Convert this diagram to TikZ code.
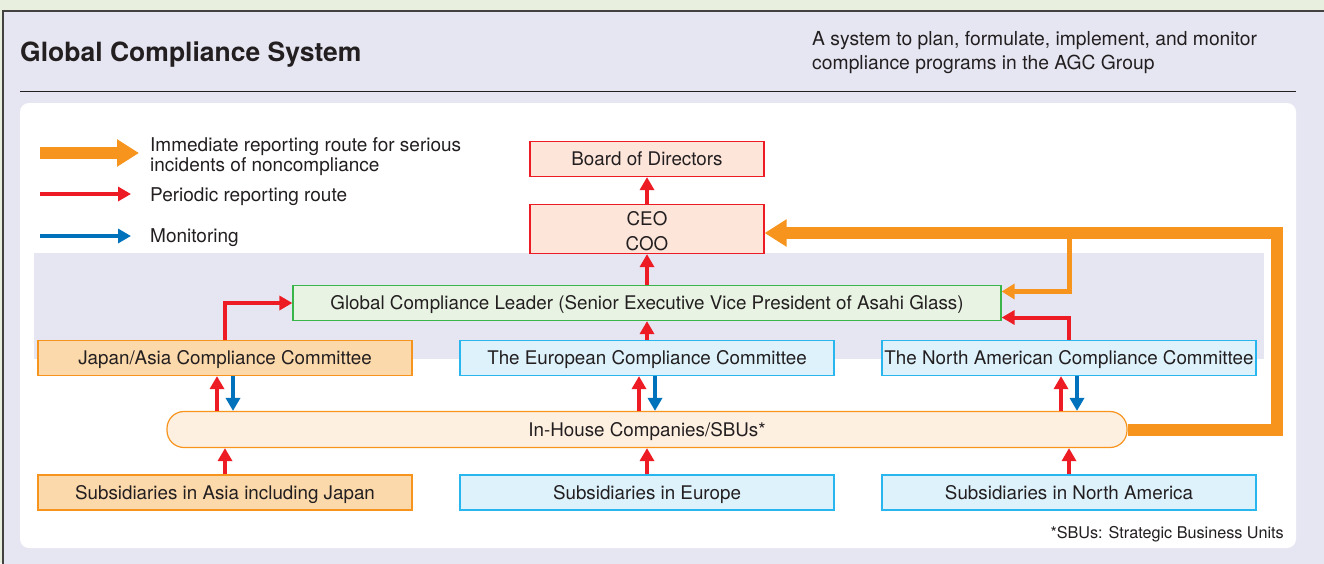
\documentclass[tikz,border=0pt]{standalone}
\usepackage{fontspec}
\setmainfont{TeX Gyre Heros}
\usetikzlibrary{arrows.meta,positioning}
\definecolor{txt}{HTML}{231F20}
\definecolor{topgreen}{HTML}{E9EFDF}
\definecolor{lavender}{HTML}{E6E6F2}
\definecolor{arrred}{HTML}{ED1C24}
\definecolor{arrblue}{HTML}{0072BC}
\definecolor{arrorange}{HTML}{F7941D}
\definecolor{redfill}{HTML}{FDE5DA}
\definecolor{greenline}{HTML}{39B54A}
\definecolor{greenfill}{HTML}{E8F3E3}
\definecolor{asiafill}{HTML}{FCD9AB}
\definecolor{housefill}{HTML}{FEF0E1}
\definecolor{cyanline}{HTML}{29B6EE}
\definecolor{cyanfill}{HTML}{DEF2FC}
\tikzset{
  box/.style={draw, line width=1.2pt, minimum height=35pt, inner sep=0pt,
    font=\fontsize{18.8}{25}\selectfont, text=txt, align=center},
  oneline/.style={box, text height=13.5pt, text depth=0pt},
  redbox/.style={oneline, draw=arrred, fill=redfill, minimum width=234pt},
  asiabox/.style={oneline, draw=arrorange, fill=asiafill, minimum width=374pt},
  cyanbox/.style={oneline, draw=cyanline, fill=cyanfill, minimum width=374pt},
  redarrow/.style={draw=arrred, line width=4pt, -{Triangle[width=14pt,length=13pt]}},
  bluearrow/.style={draw=arrblue, line width=4pt, -{Triangle[width=14pt,length=13pt]}},
  orangebig/.style={draw=arrorange, line width=12pt, -{Triangle[width=26pt,length=22pt]}},
  orangethin/.style={draw=arrorange, line width=5pt, -{Triangle[width=15pt,length=13pt]}},
  legendtext/.style={anchor=west, inner sep=0pt, text=txt, align=left, font=\fontsize{19}{20}\selectfont},
}
\begin{document}
\begin{tikzpicture}[x=1pt,y=-1pt]
  \useasboundingbox (0,0) rectangle (1324,563);
  \clip (0,0) rectangle (1324,563);
  % background
  \fill[topgreen] (0,0) rectangle (1324,563);
  \draw[line width=2.5pt, draw=txt!85, fill=lavender] (3,11) rectangle (1340,580);
  \node[anchor=west, inner sep=0pt, text=txt, font=\fontsize{26.5}{30}\selectfont\bfseries] (title) at (20,55) {Global Compliance System};
  \node[legendtext, font=\fontsize{19.3}{24}\selectfont] (about) at (812,53) {A system to plan, formulate, implement, and monitor\\compliance programs in the AGC Group};
  \draw[line width=1pt, txt] (20,91) -- (1296,91);
  \fill[white, rounded corners=9pt] (20,103) rectangle (1296,548);
  \fill[lavender] (34,253) rectangle (1264,359);

  % legend
  \coordinate (lgo1) at (40,153);
  \coordinate (lgo2) at (139,153);
  \coordinate (lgr1) at (40,194);
  \coordinate (lgr2) at (131,194);
  \coordinate (lgb1) at (40,236);
  \coordinate (lgb2) at (131,236);
  \draw[orangebig] (lgo1) -- (lgo2);
  \draw[redarrow] (lgr1) -- (lgr2);
  \draw[bluearrow] (lgb1) -- (lgb2);
  \node[legendtext] (lgotext) at (150,157) {Immediate reporting route for serious\\incidents of noncompliance};
  \node[legendtext] (lgrtext) at (150,197) {Periodic reporting route};
  \node[legendtext] (lgbtext) at (150,238) {Monitoring};

  % boxes
  \node[redbox] (board) at (647,159) {Board of Directors};
  \node[box, draw=arrred, fill=redfill, minimum width=234pt, minimum height=49pt] (ceo) at (647,229) {};
  \node[text=txt, font=\fontsize{18.8}{25}\selectfont, align=center, inner sep=0pt] (ceotext) at ([yshift=-2pt]ceo.center) {CEO\\COO};
  \node[oneline, draw=greenline, fill=greenfill, minimum width=708pt] (leader) at (647,303)
    {Global Compliance Leader (Senior Executive Vice President of Asahi Glass)};
  \node[asiabox] (japan) at (225,358) {Japan/Asia Compliance Committee};
  \node[cyanbox] (europe) at (647,358) {The European Compliance Committee};
  \node[cyanbox] (namerica) at (1069,358) {The North American Compliance Committee};
  \node[oneline, draw=arrorange, fill=housefill, minimum width=960pt, minimum height=36pt,
    rounded corners=17pt] (inhouse) at (647,429.5) {In-House Companies/SBUs*};
  \node[asiabox] (subasia) at (225,492.5) {Subsidiaries in Asia including Japan};
  \node[cyanbox] (subeurope) at (647,492.5) {Subsidiaries in Europe};
  \node[cyanbox] (subnamerica) at (1069,492.5) {Subsidiaries in North America};
  \node[anchor=east, inner sep=0pt, text=txt, font=\fontsize{16.2}{18}\selectfont] (note) at (1284,534) {*SBUs: Strategic Business Units};

  % reporting routes
  \draw[redarrow] (ceo) -- (board);
  \draw[redarrow] (leader) -- (ceo);
  \draw[redarrow] (europe) -- (leader);
  \draw[redarrow] (japan.north) |- (leader.west);
  \draw[redarrow] (namerica.north) |- ([yshift=-14.5pt]leader.east);
  \foreach \c in {japan,europe,namerica}{
    \draw[redarrow] ([xshift=-8pt]inhouse.north -| \c.south) -- ([xshift=-8pt]\c.south);
    \draw[bluearrow] ([xshift=8pt]\c.south) -- ([xshift=8pt]inhouse.north -| \c.south);
  }
  \draw[redarrow] (subasia) -- (subasia |- inhouse.south);
  \draw[redarrow] (subeurope) -- (inhouse);
  \draw[redarrow] (subnamerica) -- (subnamerica |- inhouse.south);

  % immediate route
  \coordinate (turn) at (1277,233);
  \coordinate (split) at (1069,233);
  \draw[orangethin] (split) |- ([yshift=11.5pt]leader.east);
  \draw[orangebig] (inhouse.east) -| (turn) -- (ceo.east |- turn);
\end{tikzpicture}
\end{document}
